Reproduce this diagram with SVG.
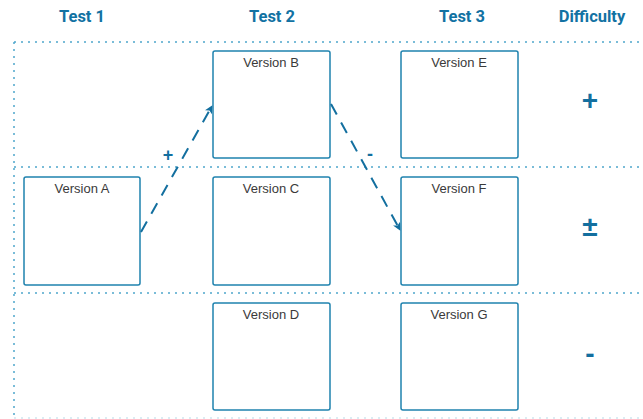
<svg xmlns="http://www.w3.org/2000/svg" width="643" height="419" viewBox="0 0 643 419">
  <defs>
    <style>
      .head { font-family: "Liberation Sans Narrow", "Roboto", sans-serif; font-weight: bold; font-size: 16.5px; fill: #1272a3; text-anchor: middle; }
      .grid { stroke: #4fa6cc; stroke-width: 1.5; stroke-dasharray: 2 5; fill: none; }
      .box rect { fill: #ffffff; stroke: #1f82ae; stroke-width: 1.5; }
      .box text { font-family: "Liberation Sans", Arial, sans-serif; font-size: 13px; fill: #3a3a3a; text-anchor: middle; }
      .edge { stroke: #136f9f; stroke-width: 2; stroke-dasharray: 12 9; fill: none; }
      .sign { font-family: "Liberation Sans", Arial, sans-serif; font-weight: bold; fill: #136f9f; text-anchor: middle; }
    </style>
    <marker id="arrow" viewBox="0 0 10 10" refX="9" refY="5" markerWidth="10" markerHeight="8" orient="auto" markerUnits="userSpaceOnUse">
      <path d="M0,0 L10,5 L0,10 L2.5,5 z" fill="#136f9f"/>
    </marker>
  </defs>

  <!-- column headers -->
  <g id="headers">
    <text class="head" x="82" y="22">Test 1</text>
    <text class="head" x="272" y="22">Test 2</text>
    <text class="head" x="462" y="22">Test 3</text>
    <text class="head" x="592" y="22">Difficulty</text>
  </g>

  <!-- dotted row grid -->
  <g id="grid">
    <line class="grid" x1="14" y1="42" x2="643" y2="42"/>
    <line class="grid" x1="14" y1="167" x2="643" y2="167"/>
    <line class="grid" x1="14" y1="293" x2="643" y2="293"/>
    <line class="grid" x1="14" y1="418" x2="643" y2="418" style="stroke:#cfe6ef"/>
    <line class="grid" x1="14" y1="42" x2="14" y2="419"/>
  </g>

  <!-- version nodes -->
  <g id="versionA" class="box"><rect x="24" y="177" width="116" height="108" rx="2"/><text x="82" y="193">Version A</text></g>
  <g id="versionB" class="box"><rect x="213" y="51" width="117" height="107" rx="2"/><text x="271" y="67">Version B</text></g>
  <g id="versionC" class="box"><rect x="213" y="177" width="117" height="108" rx="2"/><text x="271" y="193">Version C</text></g>
  <g id="versionD" class="box"><rect x="213" y="303" width="117" height="107" rx="2"/><text x="271" y="319">Version D</text></g>
  <g id="versionE" class="box"><rect x="401" y="51" width="117" height="107" rx="2"/><text x="459" y="67">Version E</text></g>
  <g id="versionF" class="box"><rect x="401" y="177" width="117" height="108" rx="2"/><text x="459" y="193">Version F</text></g>
  <g id="versionG" class="box"><rect x="401" y="303" width="117" height="107" rx="2"/><text x="459" y="319">Version G</text></g>

  <!-- transitions -->
  <g id="connectors">
    <path class="edge" d="M141,232 L212,106" marker-end="url(#arrow)"/>
    <path class="edge" d="M331,104 L400,230" marker-end="url(#arrow)"/>
    <text class="sign" x="168" y="161" font-size="18">+</text>
    <text class="sign" x="370" y="160" font-size="18">-</text>
  </g>

  <!-- difficulty markers -->
  <g id="difficulty">
    <text class="sign" x="590" y="110" font-size="28">+</text>
    <text class="sign" x="590" y="236" font-size="28">±</text>
    <text class="sign" x="590" y="363" font-size="28">-</text>
  </g>
</svg>
